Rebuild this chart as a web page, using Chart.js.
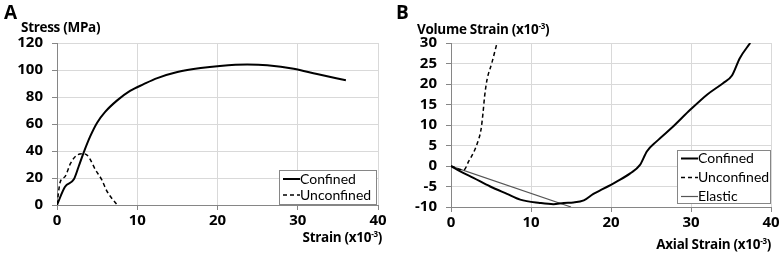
<!DOCTYPE html>
<html>
<head>
<meta charset="utf-8">
<script src="https://cdn.jsdelivr.net/npm/chart.js@4.4.1/dist/chart.umd.min.js"></script>
<style>
  body { margin: 0; background: #fff; width: 783px; height: 255px; position: relative; overflow: hidden; font-family: "Open Sans", sans-serif; }
  canvas { position: absolute; top: 0; }
  .lbl { position: absolute; font-weight: bold; color: #000; white-space: nowrap; }
  .panel { font-size: 19px; }
  .ttl { font-size: 13.5px; letter-spacing: -0.3px; }
  sup { font-size: 8px; vertical-align: 5px; line-height: 0; }
</style>
</head>
<body>
<canvas id="chartA" width="390" height="255" style="left:0"></canvas>
<canvas id="chartB" width="393" height="255" style="left:390px"></canvas>

<div class="lbl panel" style="left:4px; top:-1px;">A</div>
<div class="lbl ttl" style="left:21px; top:18px;">Stress (MPa)</div>
<div class="lbl ttl" style="right:401px; top:228px;">Strain (x10<sup>-3</sup>)</div>

<div class="lbl panel" style="left:396px; top:-1px;">B</div>
<div class="lbl ttl" style="left:417px; top:20px;">Volume Strain (x10<sup>-3</sup>)</div>
<div class="lbl ttl" style="right:12px; top:235px;">Axial Strain (x10<sup>-3</sup>)</div>

<script>
// panel A: stress vs strain
const strainConfA = [0, 1, 2.1, 2.7, 3.3, 4.15, 5, 6, 7.5, 9.1, 10.8, 12.5, 15, 17.9, 20.3, 23.7, 26.2, 29.5, 32.4, 36];
const stressConfA = [0, 13.5, 19, 28.5, 38.5, 51, 61, 69, 77.5, 84.5, 89.5, 94, 98.5, 101.5, 103, 104, 103.5, 101, 97, 92.4];
const strainUnconfA = [0, 0.4, 1.0, 1.7, 2.5, 3.3, 3.9, 4.8, 5.6, 6.2, 7.5];
const stressUnconfA = [0.5, 17, 21, 31, 37, 38, 36, 26, 18.5, 10.5, 0];

// panel B: volume strain vs axial strain
const axialConfB = [0, 1.16, 2.8, 4.9, 7.0, 8.65, 11.1, 12.8, 14.1, 15.3, 16.6, 17.8, 19.0, 20.7, 22.4, 23.6, 24.5, 25.7, 27.8, 29.9, 32.0, 34.0, 35.1, 36.1, 37.4];
const volConfB = [0, -1.3, -2.9, -5, -6.8, -8.2, -9.0, -9.3, -9.0, -8.9, -8.4, -6.8, -5.6, -3.8, -1.8, 0.2, 3.6, 6, 9.7, 13.7, 17.4, 20.2, 22, 26.3, 30];
const axialUnconfB = [0, 1.6, 2.2, 2.8, 3.3, 3.75, 4.0, 4.2, 4.5, 5.1, 5.7];
const volUnconfB = [0, -1.0, 1.1, 3.2, 5.6, 8.9, 12.9, 17, 21, 25.1, 29.6];
const axialElastic = [0, 15];
const volElastic = [0, -10];

function pts(xs, ys)
{
    return xs.map((x, i) => ({ x: x, y: ys[i] }));
}

const gridCol = '#d9d9d9';
const axisCol = '#868686';
const tickFont = { family: 'Open Sans', size: 15, weight: 'bold' };

// legend drawn as a bordered box inside the plot
const boxLegend = {
    id: 'boxLegend',
    afterDatasetsDraw(chart, args, o) {
        const ctx = chart.ctx;
        ctx.save();
        ctx.fillStyle = '#fff';
        ctx.fillRect(o.x, o.y, o.w, o.h);
        ctx.strokeStyle = axisCol;
        ctx.lineWidth = 1;
        ctx.strokeRect(o.x + 0.5, o.y + 0.5, o.w, o.h);
        ctx.font = '14px Lato';
        ctx.textBaseline = 'middle';
        chart.data.datasets.forEach((ds, i) => {
            const cy = o.y + o.first + o.row * i;
            ctx.strokeStyle = ds.borderColor;
            ctx.lineWidth = ds.borderWidth;
            ctx.setLineDash(ds.borderDash || []);
            ctx.beginPath();
            ctx.moveTo(o.x + 4, cy);
            ctx.lineTo(o.x + 21, cy);
            ctx.stroke();
            ctx.setLineDash([]);
            ctx.fillStyle = '#000';
            ctx.fillText(ds.label, o.x + 21, cy);
        });
        ctx.restore();
    }
};

function axes(xmin, xmax, xstep, ymin, ymax, ystep, yWidth, xHeight)
{
    return {
        x: {
            type: 'linear', min: xmin, max: xmax,
            ticks: { stepSize: xstep, color: '#000', font: tickFont, padding: 2, maxRotation: 0, autoSkip: false },
            grid: { color: gridCol, tickColor: axisCol, tickLength: 5 },
            border: { color: axisCol },
            afterFit: s => { s.height = xHeight; }
        },
        y: {
            type: 'linear', min: ymin, max: ymax,
            ticks: { stepSize: ystep, color: '#000', font: tickFont, padding: 9, autoSkip: false },
            grid: { color: gridCol, tickColor: axisCol, tickLength: 5 },
            border: { color: axisCol },
            afterFit: s => { s.width = yWidth; }
        }
    };
}

const lineStyle = { borderColor: '#000', showLine: true, pointRadius: 0, cubicInterpolationMode: 'monotone' };

new Chart(document.getElementById('chartA'), {
    type: 'scatter',
    data: {
        datasets: [
            Object.assign({ label: 'Confined', data: pts(strainConfA, stressConfA), borderWidth: 2 }, lineStyle),
            Object.assign({ label: 'Unconfined', data: pts(strainUnconfA, stressUnconfA), borderWidth: 1.5, borderDash: [4, 3] }, lineStyle)
        ]
    },
    options: {
        responsive: false,
        animation: false,
        layout: { padding: { top: 43, right: 12, left: 0, bottom: 0 } },
        scales: axes(0, 40, 10, 0, 120, 20, 57, 50),
        plugins: {
            legend: { display: false },
            tooltip: { enabled: false },
            boxLegend: { x: 279, y: 170, w: 97, h: 34, first: 9, row: 16 }
        }
    },
    plugins: [boxLegend]
});

new Chart(document.getElementById('chartB'), {
    type: 'scatter',
    data: {
        datasets: [
            Object.assign({ label: 'Confined', data: pts(axialConfB, volConfB), borderWidth: 2 }, lineStyle),
            Object.assign({ label: 'Unconfined', data: pts(axialUnconfB, volUnconfB), borderWidth: 1.5, borderDash: [4, 3] }, lineStyle),
            { label: 'Elastic', data: pts(axialElastic, volElastic), borderColor: '#555', borderWidth: 1.2, showLine: true, pointRadius: 0 }
        ]
    },
    options: {
        responsive: false,
        animation: false,
        layout: { padding: { top: 43, right: 12, left: 0, bottom: 0 } },
        scales: axes(0, 40, 10, -10, 30, 5, 61, 48),
        plugins: {
            legend: { display: false },
            tooltip: { enabled: false },
            boxLegend: { x: 287, y: 150, w: 93, h: 53, first: 8.5, row: 19 }
        }
    },
    plugins: [boxLegend]
});
</script>
</body>
</html>
